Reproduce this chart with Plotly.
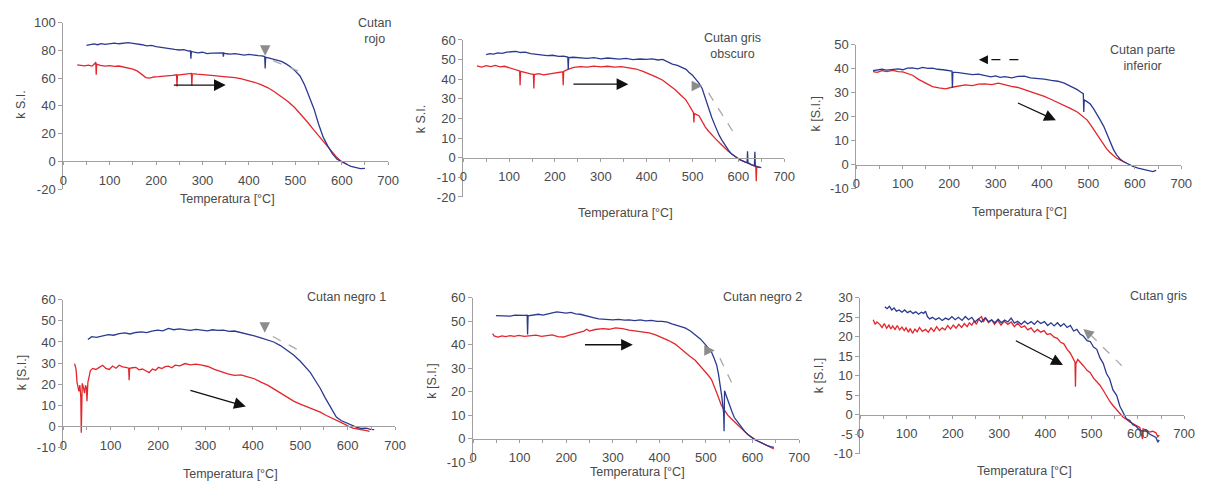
import plotly.graph_objects as go

W, H = 1212, 490

# ---------------- data (temperature °C, k S.I.) ----------------
p1_blue = [(50,83.5),(58,84.2),(66,84.6),(74,84),(82,84.8),(90,84.3),(100,84.6),(110,85.2),(120,84.7),(130,85.3),
           (140,85.5),(150,85),(160,84.6),(170,84),(180,83.2),(190,83.6),(200,82.6),(210,82),(220,81.6),(230,81),
           (240,80.6),(250,80.2),(260,80.5),(268,79.6),(274,79.5),(275,74),(276,79.3),(282,78.6),(290,78.2),(300,78.6),
           (310,77.6),(320,78),(330,78.1),(340,78.6),(344,78.2),(345,75.5),(346,78),(352,77.5),(360,77.2),(370,77.6),
           (380,77),(390,76.6),(400,77.1),(410,76.5),(420,76.2),(428,76),(434,75.5),(435,67),(436,75),(442,74.5),
           (450,73.8),(460,73),(470,72),(480,70.2),(490,68),(500,65),(510,61.5),(520,55),(530,47),(540,38),
           (550,27),(560,17.5),(570,11),(580,5.5),(590,1.6),(600,-0.5),(610,-2),(620,-3.5),(630,-4.6),(640,-5.2),(650,-5)]
p1_red = [(30,69.5),(38,69.2),(46,68.8),(54,69.3),(62,68.6),(68,70.5),(70,71.5),(71,62.5),(72,70),(80,69.2),
          (90,68.6),(100,68.9),(110,68.4),(120,68.7),(130,68),(140,67.6),(150,66.5),(160,65),(170,62.5),(178,60.4),
          (186,60),(195,60.8),(205,61),(215,61.2),(225,61.6),(235,62),(244,62.4),(245,54),(246,62.2),(255,62.6),
          (265,63.2),(276,63.4),(277,54.5),(278,63.2),(288,62.8),(300,62.6),(313,62.2),(325,61.8),(340,61.3),(355,61),
          (370,60.3),(384,59.4),(398,58.3),(412,57),(426,55.3),(441,53),(455,50.2),(469,47),(484,43.2),(498,39),
          (512,34),(526,28.4),(540,22.5),(554,16.8),(565,12),(576,7.5),(587,3.8),(597,0.5),(605,-1),(612,-2)]

p2_blue = [(50,52.5),(58,53),(66,52.8),(75,53.4),(85,53.2),(95,53.8),(105,54),(115,54.2),(125,53.6),(135,53.8),
           (147,53),(157,52.8),(170,52.2),(183,52),(195,52.2),(208,51.6),(219,51.8),(228,51.3),(229,45),(230,51),
           (240,51.2),(255,51),(270,50.6),(285,51),(300,50.4),(315,50.8),(327,50.5),(340,50.2),(355,50.6),(370,50),
           (385,50.3),(399,50.1),(412,50.4),(425,49.8),(435,50.1),(445,49),(456,47.7),(467,47),(478,46),(486,45),
           (492,43.6),(500,42),(506,40.3),(514,38),(521,35.3),(527,31),(532,27),(537,24),(542,20.5),(548,17),
           (553,14),(558,11.5),(564,9),(571,6.2),(578,4),(585,2),(593,0.5),(603,-1),(614,-2.1),(619,-2.5),
           (620,3.3),(621,-2.5),(628,-3.5),(635,-4),(636,3),(637,-4.2),(643,-4.6),(650,-5)]
p2_red = [(30,46.8),(40,46.2),(50,46.9),(60,46.4),(70,47),(80,46.3),(90,46.6),(100,45.8),(110,45.3),(118,44.6),
          (123,44.2),(124,37),(125,44),(132,43.6),(140,43),(147,42.7),(153,42.5),(154,35.3),(155,42.4),(165,42.8),
          (175,42.2),(185,42.5),(195,43),(205,43.4),(212,43.6),(217,43.8),(218,37),(219,44),(228,45),(241,46),
          (255,46.4),(270,46.2),(285,46.7),(300,46.3),(315,46.6),(330,46.2),(345,46.4),(356,46),(367,45.7),(377,45.2),
          (392,44),(406,42.7),(420,41.2),(435,39.5),(449,37),(463,34.5),(474,32),(485,29.6),(492,27),(499,23.8),
          (502,23),(503,18),(504,22.5),(514,21.4),(521,18.5),(528,15.6),(535,13.5),(542,11.5),(551,9.5),(560,7.4),
          (569,5.2),(578,3.3),(586,1.8),(593,0.5),(603,-1),(614,-2.1),(625,-3.2),(636,-4.1),(638,-4.5),(639,-12),
          (640,-4.6),(647,-5)]

p3_blue = [(36,39.2),(45,39.5),(55,39.8),(65,39.4),(79,39.7),(90,40),(100,39.6),(110,40.3),(121,40.4),(132,40),
           (143,40.6),(154,40.2),(164,40.3),(175,39.8),(187,39.6),(199,39.3),(206,39),(207,32),(208,38.6),(220,38.4),
           (235,38),(250,37.6),(263,37.8),(277,37.3),(290,36.6),(300,37),(310,36.4),(320,36.7),(335,36.2),(348,36.8),
           (362,36.9),(375,36.2),(390,36),(405,35.7),(420,35.2),(434,34.8),(448,34),(462,32.8),(476,31.3),(484,30.2),
           (489,29.6),(490,22),(491,27),(497,26.3),(504,25.3),(511,23.4),(518,21.3),(525,18.8),(533,16),(540,12.6),
           (547,9.3),(554,6.3),(561,4),(568,2.4),(575,1.3),(585,0.2),(596,-0.7),(607,-1.4),(618,-2),(628,-2.6),
           (639,-2.9),(646,-2.4)]
p3_red = [(36,38.8),(45,38.5),(55,39.2),(65,38.8),(79,39.3),(90,38.8),(100,38.7),(110,38),(121,37.3),(135,35.5),
          (150,34),(164,32.6),(178,32),(192,31.6),(206,32.3),(220,32.8),(235,33.3),(250,33),(263,33.6),(277,33.7),
          (292,33.4),(306,34),(320,33.2),(334,32.7),(348,32.2),(362,31.3),(376,30.6),(391,29.6),(405,28.5),(419,27.3),
          (434,26),(448,24.7),(462,23.4),(476,22),(487,20.4),(497,18.7),(504,16.8),(511,14.7),(518,12.8),(526,10.7),
          (532,8.6),(539,6.7),(546,5.2),(553,4),(560,2.8),(568,2),(575,1.2),(582,0.7)]

p4_blue = [(52,41.2),(60,42.5),(70,42.2),(83,43),(95,43.5),(106,43.2),(118,44),(130,44.3),(141,43.8),(153,44.5),
           (165,44.8),(176,44.4),(187,45.2),(199,45.6),(210,45.3),(222,46.4),(233,45.8),(245,46.2),(257,46),(268,45.5),
           (280,46),(292,45.7),(304,45.3),(315,45.8),(326,45.5),(338,45.6),(350,45),(361,45.2),(375,44.5),(389,43.7),
           (403,42.9),(417,41.9),(430,41),(444,40),(458,38.3),(472,36.2),(486,33.8),(500,30.9),(510,28.5),(521,25.6),
           (531,22),(542,18.1),(552,13.8),(562,9.8),(569,7),(576,4.5),(586,2.8),(597,1.8),(607,0.6),(618,-0.3),
           (628,-0.9),(639,-0.8),(648,-1.4),(656,-1.5)]
p4_red = [(24,29.8),(27,27),(29,21),(31,18),(33,16.6),(35,19.6),(37,14),(38,-3),(39,8),(40,20.4),
          (42,19),(44,16),(45,15.8),(47,19.5),(49,18),(50,12),(52,21),(55,24),(57,26.4),(62,27.5),
          (69,27),(76,28),(83,29),(90,27.5),(97,27),(104,28.6),(111,27.6),(118,29),(125,28.2),(132,28),
          (138,27.6),(139,21.9),(140,27.5),(146,27.8),(153,28),(160,26.8),(167,27.2),(174,26.4),(181,25.5),(188,27.2),
          (195,26.6),(201,28),(208,27.4),(215,28.3),(222,28.6),(229,27.8),(236,29),(246,28.7),(257,29.8),(268,29.2),
          (280,29.5),(292,29),(305,28.4),(319,27),(333,25.8),(347,24.9),(361,24.2),(375,24.4),(389,23.5),(403,22.6),
          (417,21),(431,19.6),(444,17.8),(458,15.8),(472,13.8),(486,12),(500,10.6),(514,9.3),(528,8),(542,6.8),
          (555,5.2),(569,3.8),(580,2.5),(590,1.5),(600,0.3),(611,-0.8),(622,-1.2),(632,-1.5),(640,-2),(646,-2.3)]

p5_blue = [(49,52.4),(60,52.3),(70,52.5),(80,52.2),(90,52.6),(100,52.4),(110,52.5),(116,52.6),(117,44.4),(118,52.3),
           (128,52.7),(140,53),(150,52.6),(159,53.2),(170,53.6),(180,54),(190,53.8),(200,53.5),(210,53.8),(220,53.2),
           (230,53),(240,52.4),(250,52),(260,51.5),(270,51),(280,50.8),(290,50.6),(300,50.6),(312,50.8),(325,50.5),
           (335,50.6),(347,50.3),(359,50.6),(371,50.2),(383,50.4),(395,50),(406,50),(417,49.6),(427,48.9),(441,48),
           (455,47.2),(466,46),(477,44.4),(488,42.5),(498,40.3),(505,38.8),(512,36.9),(518,34),(523,31.4),(527,27.5),
           (530,23.8),(534,18),(537,12.8),(538,11),(539,3.2),(540,20.4),(545,17.5),(550,14.5),(556,11.5),(561,9),
           (568,7),(576,4.8),(583,3.2),(590,1.8),(597,0.6),(604,-0.3),(611,-1),(618,-1.7),(625,-2.4),(632,-3),
           (639,-3.4),(646,-3.7)]
p5_red = [(42,44.7),(45,43.8),(53,43.3),(62,43.8),(70,43.5),(80,43.9),(88,43.6),(98,44),(110,43.6),(124,43.8),
          (135,44.1),(147,43.6),(159,43.8),(170,44.2),(182,43.5),(194,43.3),(205,44),(215,44.7),(228,45.3),(238,45.8),
          (244,46.6),(250,45.8),(262,46.5),(279,46.9),(292,46.6),(306,47.2),(321,46.9),(335,46.2),(350,45.8),(364,45.5),
          (378,45.1),(392,44.2),(406,43.1),(420,41.8),(434,40.3),(445,38.4),(455,36.5),(466,35),(477,33.4),(488,31),
          (498,28.6),(505,27),(512,25.2),(518,22.5),(523,19.7),(528,17),(533,14.2),(540,12),(547,10),(554,8.6),
          (561,7.3),(568,5.9),(576,4.5),(583,3.1),(590,1.8),(600,0.4),(611,-1),(622,-2),(632,-3),(640,-3.8),(646,-4.4)]

p6_blue = [(53,27.7),(58,27.2),(63,27.8),(68,26.9),(73,27.4),(78,26.6),(84,26.9),(90,26.3),(96,26.9),(102,26.2),
           (108,26.6),(114,26),(120,26.4),(126,25.8),(132,26.3),(137,26),(141,26.6),(145,25.2),(150,24.6),(156,25),
           (163,24.4),(170,24.9),(177,24.2),(184,24.8),(191,24.4),(198,25.2),(205,24.4),(212,25),(220,24.2),(227,25.2),
           (234,24.4),(241,25),(248,23.8),(255,24.6),(262,23.8),(270,24.9),(277,23.9),(284,24.3),(291,23.6),(298,24.5),
           (305,23.6),(312,24.3),(319,23.8),(326,24.8),(333,23.5),(340,24),(348,23.2),(355,24),(362,23.3),(369,23.9),
           (376,23.2),(383,24.1),(390,23.4),(398,23.9),(405,22.9),(412,23.6),(419,22.8),(426,23.6),(433,22.7),(440,23.4),
           (447,22.4),(454,22.9),(461,21.5),(468,21.9),(475,20.7),(482,20.2),(490,19),(497,18.8),(504,17.4),(511,16.8),
           (518,14.6),(525,13.2),(532,10.6),(539,9.2),(546,6.4),(554,5),(561,2.2),(568,0.6),(575,-1),(582,-1.4),
           (589,-2.5),(596,-2.9),(603,-3.8),(610,-4.2),(617,-4.1),(625,-4.9),(632,-5.3),(639,-5.8),(643,-7),(646,-6.4)]
p6_red = [(28,24.4),(32,23.2),(36,23.8),(42,23.2),(47,22.4),(52,23.4),(57,22.2),(62,23),(66,22),(70,22.8),
          (75,21.9),(80,22.9),(85,21.8),(90,22.5),(95,21.6),(99,22.3),(104,21.2),(108,22.1),(113,20.9),(118,22),
          (123,21.3),(128,22.4),(134,21.4),(141,21.9),(147,21.2),(153,22.3),(159,21.4),(165,22.6),(171,21.6),(177,22.3),
          (183,21.8),(189,22.9),(195,22),(201,23),(207,22.2),(213,23.2),(219,22.4),(225,23.4),(231,22.6),(236,23.6),
          (241,23),(246,24),(251,23.2),(256,24.6),(262,25.2),(266,23.8),(271,24.9),(277,23.6),(284,24.4),(290,23.2),
          (297,24.3),(304,23),(311,24),(319,23.2),(326,23.8),(333,22.6),(340,23.5),(348,22.4),(355,22.8),(362,21.8),
          (369,22.3),(376,21.2),(383,21.9),(390,21.2),(397,21.6),(404,20.6),(411,20.8),(419,19.9),(426,19.6),(433,18.6),
          (440,18.2),(447,16.8),(454,15.8),(459,14.8),(462,14.1),(464,13.5),(465,7.2),(466,13.2),(470,14.2),(475,13.4),
          (482,12.6),(490,11.4),(497,10.8),(504,9.4),(511,8.6),(518,7.6),(525,6.3),(532,4.8),(539,3.5),(546,2.4),
          (554,1.2),(561,0.2),(568,-0.6),(575,-1.1),(582,-1.8),(589,-2.2),(597,-2.7),(604,-3.2),(610,-6.2),(611,-3.6),
          (618,-3.9),(625,-4.4),(632,-4.2),(639,-4.6),(643,-5.6),(646,-5.2)]

titles = ["Cutan<br>rojo", "Cutan gris<br>obscuro", "Cutan parte<br>inferior",
          "Cutan negro 1", "Cutan negro 2", "Cutan gris"]
y_titles = ["k S.I.", "k S.I.", "k [S.I.]", "k [S.I.]", "k [S.I.]", "k [S.I.]"]
x_title = "Temperatura [°C]"
y_ticks = [[-20, 0, 20, 40, 60, 80, 100],
           [-20, -10, 0, 10, 20, 30, 40, 50, 60],
           [-10, 0, 10, 20, 30, 40, 50],
           [-10, 0, 10, 20, 30, 40, 50, 60],
           [-10, 0, 10, 20, 30, 40, 50, 60],
           [-10, -5, 0, 5, 10, 15, 20, 25, 30]]
x_ticks = [0, 100, 200, 300, 400, 500, 600, 700]

# black arrows: (tail T, tail k, head T, head k)
black_arrows = [(235, 55, 350, 55), (237, 37.5, 360, 37.5), (345, 26, 430, 18.5),
                (265, 17.3, 385, 9.5), (237, 40, 343, 40), (333, 19.2, 438, 12.8)]
# grey dashed arrows: head (T,k), head direction offset (px), dashed segment (T0,k0,T1,k1)
grey_arrows = {1: ((435, 76), (0, -9), (452, 72.5, 507, 65)),
               2: ((521, 36.5), (-9, 0), (535, 33, 588, 13.4)),
               4: ((425, 44.4), (0, -9), (442, 42.6, 500, 35.7)),
               5: ((519, 37.6), (-9, 0), (530, 34.3, 561, 21.5)),
               6: ((482, 22), (7, 6), (497, 20.6, 565, 12.6))}
# panel 3 black dashed arrow (pointing left)
dashed_black = ((264, 43.8), (291, 43.8, 355, 43.8))

# ---------------- layout geometry (pixels) ----------------
geom = [  # x of T=0, x of T=700, y of top, y of bottom
    (60, 389, 16, 188),
    (465, 790, 34, 196),
    (863, 1192, 39, 187.4),
    (60, 396, 302, 454.5),
    (475, 805, 300, 469.5),
    (867, 1195, 300, 461),
]
title_pos = [(375, 25), (738, 40), (1153, 53), (347, 299), (768, 299), (1169, 298)]
xtitle_pos = [(226, 198), (629, 213), (1028, 211), (229, 482), (641, 480), (1033, 479)]
ytitle_pos = [(17, 101), (423, 116), (822, 110), (19, 377), (434, 386), (826, 380)]

series = [(p1_blue, p1_red), (p2_blue, p2_red), (p3_blue, p3_red),
          (p4_blue, p4_red), (p5_blue, p5_red), (p6_blue, p6_red)]

BLUE = "#2B3A8F"
RED = "#E2262B"
AX = "#a0a0a0"
TXT = "#4a4a4a"
FONT = "Liberation Sans, Arial, sans-serif"

fig = go.Figure()
layout = dict(width=W, height=H, margin=dict(l=0, r=0, t=0, b=0),
              paper_bgcolor="white", plot_bgcolor="white", showlegend=False,
              font=dict(family=FONT, color=TXT))
annotations = []
shapes = []

for i, ((blue, red), (x0, x1, top, bot)) in enumerate(zip(series, geom), start=1):
    xs = "x" if i == 1 else f"x{i}"
    ys = "y" if i == 1 else f"y{i}"
    xa = "xaxis" if i == 1 else f"xaxis{i}"
    ya = "yaxis" if i == 1 else f"yaxis{i}"
    yt = y_ticks[i - 1]
    ymin, ymax = yt[0], yt[-1]
    ydom = [1 - bot / H, 1 - top / H]
    zero_pos = ydom[0] + (0 - ymin) / (ymax - ymin) * (ydom[1] - ydom[0])

    for data, col in ((red, RED), (blue, BLUE)):
        fig.add_trace(go.Scatter(x=[p[0] for p in data], y=[p[1] for p in data], mode="lines",
                                 line=dict(color=col, width=1.3), xaxis=xs, yaxis=ys,
                                 hoverinfo="skip"))

    layout[xa] = dict(domain=[x0 / W, x1 / W], range=[x_ticks[0], x_ticks[-1]], anchor="free",
                      position=zero_pos, tickmode="array", tickvals=x_ticks,
                      ticktext=[str(v) for v in x_ticks],
                      showline=True, linecolor=AX, linewidth=1,
                      ticks="outside", ticklen=3, tickcolor=AX,
                      minor=dict(dtick=50, ticks="outside", ticklen=3, tickcolor=AX),
                      showgrid=False, zeroline=False, ticklabelstandoff=4,
                      tickfont=dict(size=13, color=TXT, family=FONT))
    layout[ya] = dict(domain=ydom, range=[ymin, ymax], anchor=xs, tickmode="array", tickvals=yt,
                      ticktext=[str(v) for v in yt],
                      showline=True, linecolor=AX, linewidth=1, ticks="outside", ticklen=4,
                      tickcolor=AX, showgrid=False, zeroline=False,
                      tickfont=dict(size=13, color=TXT, family=FONT))

    tx, ty = title_pos[i - 1]
    annotations.append(dict(text=titles[i - 1], x=tx / W, y=1 - ty / H, xref="paper", yref="paper",
                            showarrow=False, xanchor="center", yanchor="middle",
                            font=dict(size=12.5, color=TXT, family=FONT)))
    tx, ty = xtitle_pos[i - 1]
    annotations.append(dict(text=x_title, x=tx / W, y=1 - ty / H, xref="paper", yref="paper",
                            showarrow=False, xanchor="center", yanchor="middle",
                            font=dict(size=12.5, color=TXT, family=FONT)))
    tx, ty = ytitle_pos[i - 1]
    annotations.append(dict(text=y_titles[i - 1], x=tx / W, y=1 - ty / H, xref="paper", yref="paper",
                            showarrow=False, xanchor="center", yanchor="middle", textangle=-90,
                            font=dict(size=12.5, color=TXT, family=FONT)))

    # black solid arrow
    t0, k0, t1, k1 = black_arrows[i - 1]
    annotations.append(dict(x=t1, y=k1, ax=t0, ay=k0, xref=xs, yref=ys, axref=xs, ayref=ys,
                            text="", showarrow=True, arrowhead=2, arrowsize=1.8, arrowwidth=1.3,
                            arrowcolor="#111111"))
    # grey dashed arrow
    if i in grey_arrows:
        (hx, hy), (ox, oy), (s0, s1, s2, s3) = grey_arrows[i]
        shapes.append(dict(type="line", xref=xs, yref=ys, x0=s0, y0=s1, x1=s2, y1=s3,
                           line=dict(color="#aaaaaa", width=1.3, dash="dash")))
        annotations.append(dict(x=hx, y=hy, ax=ox, ay=oy, xref=xs, yref=ys, text="",
                                showarrow=True, arrowhead=2, arrowsize=1.5, arrowwidth=1.4,
                                arrowcolor="#8c8c8c"))
    if i == 3:
        (hx, hy), (s0, s1, s2, s3) = dashed_black
        shapes.append(dict(type="line", xref=xs, yref=ys, x0=s0, y0=s1, x1=s2, y1=s3,
                           line=dict(color="#111111", width=1.3, dash="dash")))
        annotations.append(dict(x=hx, y=hy, ax=9, ay=0, xref=xs, yref=ys, text="",
                                showarrow=True, arrowhead=2, arrowsize=1.4, arrowwidth=1.3,
                                arrowcolor="#111111"))

layout["annotations"] = annotations
layout["shapes"] = shapes
fig.update_layout(**layout)
fig.write_html("out.html")
